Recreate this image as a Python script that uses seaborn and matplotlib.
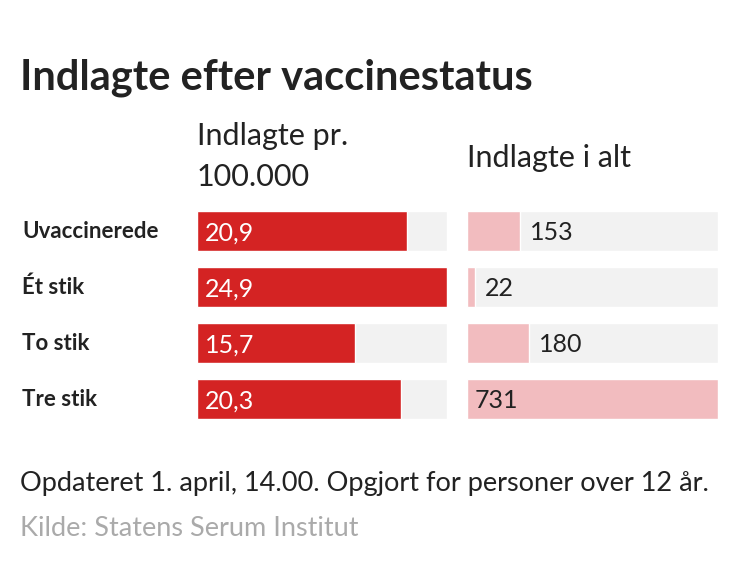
import matplotlib
matplotlib.use("Agg")
import matplotlib.pyplot as plt
import seaborn as sns

cats = ["Uvaccinerede", "Ét stik", "To stik", "Tre stik"]
per100k = [20.9, 24.9, 15.7, 20.3]
total = [153, 22, 180, 731]
per100k_labels = ["20,9", "24,9", "15,7", "20,3"]
total_labels = ["153", "22", "180", "731"]

sns.set_theme(style="white")
plt.rcParams['font.family'] = ['Lato', 'DejaVu Sans']
W, H = 750, 580
fig = plt.figure(figsize=(7.5, 5.8), dpi=100)
dark = "#222222"

def ax_at(x0, x1, y0, y1):
    return fig.add_axes([x0 / W, 1 - y1 / H, (x1 - x0) / W, (y1 - y0) / H])

ax1 = ax_at(197, 447, 203, 427)
ax2 = ax_at(467, 718, 203, 427)
bw = 40 / 56
vfs = 18

for ax, vals, labs, col, tcol, vmax in [
    (ax1, per100k, per100k_labels, "#d42323", "white", max(per100k)),
    (ax2, total, total_labels, "#f2bcbf", dark, max(total)),
]:
    ax.barh(range(len(cats)), [vmax] * len(cats), height=bw, color="#f2f2f2", zorder=0)
    sns.barplot(x=vals, y=cats, ax=ax, color=col, width=bw, orient="h", saturation=1, zorder=1)
    ax.set_xlim(0, vmax)
    ax.set_ylim(3.5, -0.5)
    ax.axis("off")
    for i, (v, l) in enumerate(zip(vals, labs)):
        if ax is ax1 or v / vmax > 0.6:
            ax.text(vmax * 0.03, i + 0.03, l, va="center", ha="left", fontsize=vfs, color=tcol if ax is ax1 else dark)
        else:
            ax.text(v + vmax * 0.04, i + 0.03, l, va="center", ha="left", fontsize=vfs, color=dark)

for i, c in enumerate(cats):
    fig.text(22 / W, 1 - (231 + 56 * i) / H, c, fontsize=16, fontweight="bold", color=dark, va="center", ha="left")

fig.text(20 / W, 1 - 78 / H, "Indlagte efter vaccinestatus", fontsize=30, fontweight="bold", color=dark, va="center", ha="left")
fig.text(197 / W, 1 - 136 / H, "Indlagte pr.", fontsize=22, color=dark, va="center", ha="left")
fig.text(197 / W, 1 - 177 / H, "100.000", fontsize=22, color=dark, va="center", ha="left")
fig.text(467 / W, 1 - 158 / H, "Indlagte i alt", fontsize=22, color=dark, va="center", ha="left")
fig.text(20 / W, 1 - 484 / H, "Opdateret 1. april, 14.00. Opgjort for personer over 12 år.", fontsize=19.5, color=dark, va="center", ha="left")
fig.text(20 / W, 1 - 528 / H, "Kilde: Statens Serum Institut", fontsize=19.5, color="#aaaaaa", va="center", ha="left")

fig.savefig("out.png", dpi=100)
